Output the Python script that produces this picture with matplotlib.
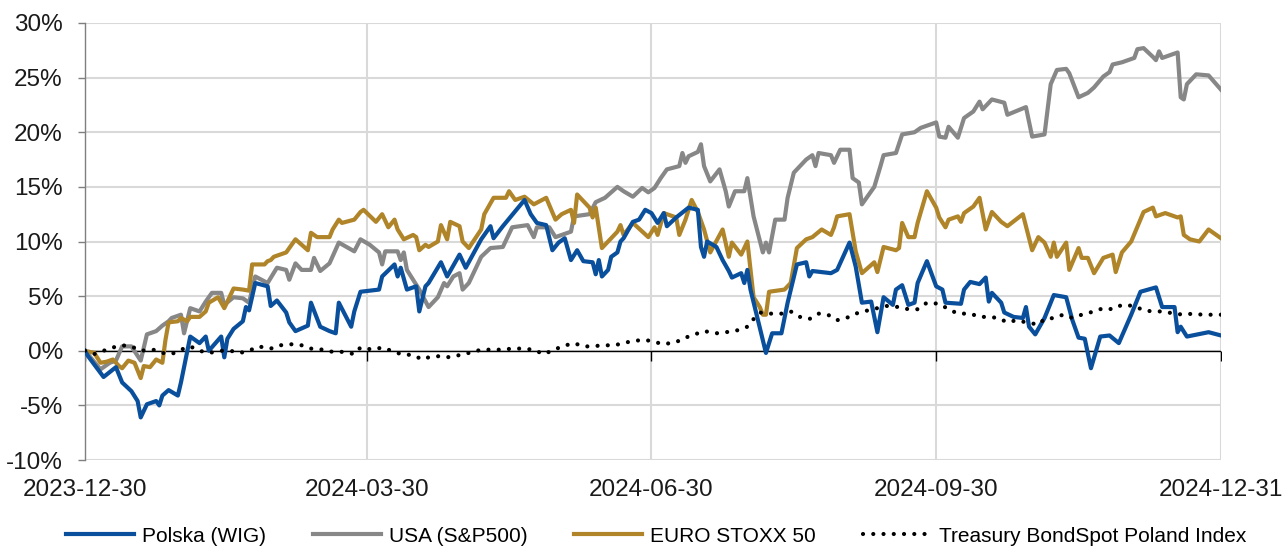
import numpy as np
import matplotlib
matplotlib.use("Agg")
import matplotlib.pyplot as plt
from matplotlib.ticker import FuncFormatter, MultipleLocator

plt.rcParams['font.family'] = ['Liberation Sans', 'DejaVu Sans']

start = np.datetime64('2023-12-30')
quarter_labels = ['2023-12-30', '2024-03-30', '2024-06-30', '2024-09-30', '2024-12-31']

# ---- data: days since 2023-12-30, cumulative return in % ----
wig_days = [0, 1, 6, 10, 12, 15, 17, 18, 20, 23, 24, 25, 27, 30, 31, 34, 37, 39, 40, 44, 45, 46, 48, 51, 52, 53,
            55, 59, 60, 62, 65, 66, 68, 72, 73, 76, 79, 81, 82, 84, 86, 87, 89, 95, 96, 100, 101, 102, 104, 107,
            108, 110, 111, 115, 117, 121, 123, 128, 131, 132, 135, 142, 144, 146, 149, 151, 153, 155, 157, 159,
            161, 164, 165, 166, 167, 169, 170, 172, 173, 174, 177, 179, 181, 183, 185, 187, 188, 191, 195, 198,
            199, 200, 201, 204, 206, 208, 209, 212, 213, 214, 215, 220, 222, 225, 227, 230, 233, 234, 235, 241,
            243, 247, 249, 251, 254, 256, 258, 261, 262, 264, 266, 268, 269, 272, 275, 277, 278, 283, 284, 286,
            289, 291, 292, 293, 296, 297, 300, 303, 304, 305, 307, 310, 313, 317, 319, 321, 323, 325, 328, 331,
            334, 338, 341, 346, 348, 352, 353, 354, 356, 363, 367]
wig_vals = [0.0, -0.5, -2.4, -1.5, -2.9, -3.7, -4.6, -6.1, -4.9, -4.6, -5.0, -4.1, -3.6, -4.1, -2.9, 1.3, 0.7, 1.3,
            0.0, 1.3, -0.6, 1.1, 2.0, 2.7, 4.0, 3.7, 6.2, 5.9, 4.1, 4.6, 3.5, 2.6, 1.8, 2.3, 4.4, 2.2, 1.8, 1.6,
            4.4, 3.3, 2.2, 3.6, 5.4, 5.6, 6.8, 7.9, 6.8, 7.6, 5.6, 5.9, 3.6, 5.9, 6.2, 8.1, 6.8, 8.8, 7.6, 10.2,
            11.4, 10.3, 11.4, 13.8, 12.5, 11.7, 11.5, 9.2, 9.9, 10.3, 8.3, 9.2, 8.2, 8.1, 7.0, 8.3, 6.8, 7.4, 8.6,
            9.0, 10.0, 10.3, 11.8, 12.0, 12.9, 12.6, 11.7, 12.6, 11.4, 12.2, 13.1, 12.9, 9.5, 8.6, 10.0, 9.5, 8.3,
            7.3, 6.7, 7.1, 6.2, 7.4, 5.6, -0.2, 1.6, 1.6, 4.4, 7.9, 8.1, 6.8, 7.3, 7.1, 7.4, 9.9, 7.7, 4.4, 4.5,
            1.7, 4.9, 4.2, 5.6, 6.0, 4.2, 4.4, 6.2, 8.2, 5.9, 5.6, 4.4, 4.3, 5.6, 6.3, 6.1, 6.7, 4.5, 5.3, 4.4,
            3.5, 3.1, 3.0, 4.0, 2.2, 1.5, 3.0, 5.1, 4.9, 2.8, 1.2, 1.1, -1.6, 1.3, 1.4, 0.7, 3.3, 5.4, 5.8, 4.0,
            4.0, 1.7, 2.2, 1.3, 1.7, 1.4]

sp_days = [0, 5, 8, 10, 12, 15, 18, 20, 23, 25, 27, 28, 31, 32, 34, 37, 39, 41, 44, 45, 48, 51, 53, 55, 59, 62,
           65, 66, 68, 70, 73, 74, 76, 79, 82, 87, 89, 92, 95, 96, 97, 101, 102, 103, 104, 108, 111, 114, 116,
           117, 119, 121, 122, 124, 128, 131, 135, 138, 143, 145, 146, 150, 152, 157, 158, 163, 165, 168, 172,
           174, 177, 180, 182, 184, 186, 188, 192, 193, 194, 195, 198, 199, 200, 202, 205, 207, 208, 210, 213,
           214, 216, 219, 220, 221, 223, 226, 227, 229, 233, 235, 236, 237, 241, 242, 244, 247, 248, 250, 251,
           255, 257, 258, 262, 264, 268, 270, 275, 276, 278, 279, 282, 284, 287, 289, 290, 293, 297, 298, 304,
           306, 310, 312, 314, 317, 318, 321, 324, 326, 329, 331, 332, 335, 339, 340, 342, 345, 346, 347, 348,
           353, 354, 355, 356, 359, 363, 367]
sp_vals = [0.0, -1.7, -1.1, -0.9, 0.4, 0.4, -0.9, 1.5, 1.8, 2.3, 2.7, 3.0, 3.3, 1.6, 3.9, 3.6, 4.5, 5.3, 5.3,
           4.2, 4.9, 4.8, 4.4, 6.8, 6.2, 7.6, 7.4, 6.5, 8.0, 7.4, 7.4, 8.5, 7.3, 8.0, 9.9, 9.1, 10.2, 9.7, 9.0,
           7.9, 9.1, 9.1, 8.3, 9.0, 7.4, 5.6, 4.0, 4.9, 6.2, 5.9, 6.8, 7.1, 5.6, 6.2, 8.6, 9.4, 9.5, 11.3, 11.5,
           10.4, 11.3, 11.3, 10.4, 10.9, 12.3, 12.5, 13.6, 14.0, 15.0, 14.6, 14.1, 14.9, 14.5, 14.9, 15.8, 16.6,
           16.9, 18.1, 17.2, 17.8, 18.2, 18.9, 16.9, 15.5, 16.6, 14.6, 13.2, 14.6, 14.6, 15.8, 12.3, 9.0, 9.9,
           9.0, 12.0, 12.0, 14.0, 16.3, 17.5, 17.9, 16.9, 18.1, 17.9, 17.2, 18.4, 18.4, 15.8, 15.4, 13.4, 15.0,
           16.9, 17.9, 18.1, 19.8, 20.0, 20.4, 20.9, 19.6, 19.5, 20.5, 19.5, 21.3, 21.9, 22.8, 22.1, 23.0, 22.7,
           21.6, 22.3, 19.6, 19.8, 24.4, 25.7, 25.8, 25.4, 23.2, 23.6, 24.1, 25.1, 25.5, 26.2, 26.4, 26.8, 27.6,
           27.7, 26.9, 26.6, 27.4, 26.8, 27.3, 23.2, 23.0, 24.4, 25.3, 25.2, 23.9]

sx_days = [0, 3, 5, 7, 9, 11, 12, 14, 16, 18, 19, 21, 23, 25, 26, 27, 30, 31, 33, 34, 37, 39, 40, 43, 45, 48,
           51, 53, 54, 58, 59, 60, 61, 65, 66, 68, 72, 73, 75, 79, 80, 82, 83, 87, 89, 90, 94, 96, 98, 100, 101,
           103, 106, 107, 108, 110, 111, 114, 115, 117, 118, 121, 122, 124, 128, 129, 132, 136, 137, 139, 142,
           145, 149, 152, 154, 157, 158, 159, 163, 164, 165, 167, 170, 172, 173, 174, 177, 182, 184, 185, 187,
           191, 192, 194, 196, 198, 200, 202, 206, 208, 209, 212, 214, 216, 218, 219, 220, 221, 226, 228, 230,
           233, 235, 238, 241, 242, 243, 247, 249, 251, 255, 256, 258, 262, 263, 264, 266, 268, 269, 272, 275,
           276, 278, 279, 282, 283, 284, 287, 289, 291, 293, 296, 298, 303, 306, 308, 310, 312, 313, 314, 317,
           318, 321, 322, 324, 326, 329, 332, 333, 335, 338, 342, 345, 346, 349, 353, 354, 355, 357, 360, 363, 367]
sx_vals = [0.0, -0.2, -1.1, -1.0, -0.8, -1.4, -1.6, -0.9, -1.1, -2.5, -1.4, -1.5, -0.8, -1.1, 1.0, 2.6, 2.7,
           3.0, 2.7, 3.1, 3.1, 3.6, 4.4, 4.9, 3.9, 5.7, 5.6, 5.5, 7.9, 7.9, 8.2, 8.3, 8.6, 9.0, 9.4, 10.2, 9.2,
           10.8, 10.4, 10.4, 11.1, 12.0, 11.7, 12.0, 12.7, 12.9, 11.8, 12.5, 11.3, 12.0, 11.1, 10.2, 10.6, 10.4,
           9.2, 9.7, 9.5, 10.0, 11.5, 10.2, 11.8, 11.4, 10.0, 9.4, 11.1, 12.5, 14.0, 14.0, 14.6, 13.8, 14.1,
           13.4, 14.0, 12.0, 12.5, 12.9, 11.7, 14.3, 13.1, 12.2, 13.1, 9.4, 10.3, 10.9, 11.5, 10.6, 11.7, 10.4,
           11.3, 10.6, 12.6, 12.2, 10.6, 12.0, 13.8, 12.7, 11.1, 9.0, 11.1, 8.6, 9.9, 8.8, 10.0, 4.9, 4.0, 3.3,
           3.3, 5.4, 5.6, 6.2, 9.4, 10.2, 10.4, 11.1, 10.6, 11.3, 12.3, 12.5, 9.1, 7.1, 8.1, 7.2, 9.5, 9.2, 9.4,
           11.7, 10.4, 10.4, 11.7, 14.6, 13.1, 12.2, 11.3, 12.0, 12.3, 11.8, 12.6, 13.2, 14.0, 11.1, 12.7, 11.8,
           11.4, 12.5, 9.2, 10.4, 9.9, 8.6, 9.9, 8.6, 9.9, 7.4, 9.4, 8.5, 8.5, 7.1, 8.5, 8.8, 7.2, 9.0, 10.0,
           12.7, 13.1, 12.3, 12.6, 12.2, 12.3, 10.6, 10.2, 10.0, 11.1, 10.3]

bond_days = [0, 3, 6, 9, 12, 15, 18, 22, 25, 28, 31, 34, 37, 40, 44, 47, 50, 53, 56, 60, 63, 67, 70, 73, 77, 80,
             83, 87, 89, 93, 96, 99, 102, 106, 109, 111, 114, 117, 121, 124, 128, 131, 135, 138, 141, 145, 148,
             151, 154, 158, 161, 164, 167, 171, 174, 177, 181, 184, 187, 191, 194, 197, 200, 204, 207, 210, 214,
             216, 218, 221, 225, 228, 231, 234, 237, 240, 243, 246, 249, 253, 256, 259, 263, 266, 269, 272, 276,
             279, 282, 286, 289, 292, 295, 298, 301, 304, 308, 310, 313, 316, 319, 322, 326, 329, 332, 335, 339,
             342, 345, 348, 352, 355, 358, 361, 364, 367]
bond_vals = [0.0, -0.3, 0.0, 0.3, 0.5, 0.4, 0.0, 0.1, -0.2, -0.3, 0.1, 0.4, 0.0, -0.2, 0.0, 0.0, -0.2, 0.0, 0.4,
             0.2, 0.5, 0.6, 0.5, 0.2, 0.1, -0.1, -0.1, -0.3, 0.3, 0.1, 0.3, 0.0, -0.3, -0.4, -0.8, -0.6, -0.5,
             -0.6, -0.4, -0.2, 0.1, 0.1, 0.1, 0.2, 0.2, 0.1, -0.3, 0.0, 0.4, 0.7, 0.4, 0.4, 0.5, 0.5, 0.7, 0.9,
             1.0, 0.8, 0.6, 0.8, 1.2, 1.5, 1.8, 1.6, 1.7, 1.8, 2.2, 2.9, 3.5, 3.4, 3.4, 3.6, 3.1, 2.9, 3.4, 3.3,
             2.8, 3.0, 3.4, 3.7, 3.9, 4.1, 4.0, 3.8, 3.8, 4.4, 4.3, 3.8, 3.4, 3.4, 3.1, 3.1, 3.0, 2.6, 2.8, 2.6,
             2.4, 2.9, 3.0, 3.3, 3.0, 3.3, 3.6, 3.9, 3.8, 4.2, 4.1, 3.7, 3.6, 3.6, 3.4, 3.3, 3.4, 3.3, 3.3, 3.3]

series_names = ['Polska (WIG)', 'USA (S&P500)', 'EURO STOXX 50', 'Treasury BondSpot Poland Index']
colors = ['#0a4f9c', '#878787', '#b0852a', '#000000']

fig = plt.figure(figsize=(12.84, 5.47), dpi=100)
ax = fig.add_axes([0.0662, 0.159, 0.8847, 0.799])

def to_dates(d):
    return start + np.array(d).astype('timedelta64[D]')

qdates = start + np.array([0, 91, 183, 275, 367]).astype('timedelta64[D]')

# grid
for v in range(-10, 31, 5):
    ax.axhline(v, color='#d9d9d9', lw=1.5, zorder=0)
for q in qdates[1:]:
    ax.axvline(q, color='#d9d9d9', lw=1.5, zorder=0)
ax.axhline(0, color='black', lw=1.0, zorder=1)
ax.plot(qdates, np.zeros(len(qdates)), linestyle='none', marker=3, ms=7, mew=1.0, color='black', zorder=1)

lw = 3.0
ax.plot(to_dates(sp_days), sp_vals, color=colors[1], lw=lw, label=series_names[1], zorder=2, solid_joinstyle='round')
ax.plot(to_dates(sx_days), sx_vals, color=colors[2], lw=lw, label=series_names[2], zorder=2, solid_joinstyle='round')
ax.plot(to_dates(wig_days), wig_vals, color=colors[0], lw=lw, label=series_names[0], zorder=3, solid_joinstyle='round')
ax.plot(to_dates(bond_days), bond_vals, color=colors[3], lw=3.0, linestyle=(0, (0.01, 2.45)),
        dash_capstyle='round', label=series_names[3], zorder=4)

ax.set_xlim(qdates[0], qdates[-1])
ax.set_ylim(-10, 30)
ax.yaxis.set_major_locator(MultipleLocator(5))
ax.yaxis.set_major_formatter(FuncFormatter(lambda v, p: f"{int(round(v))}%"))
ax.set_xticks(qdates)
ax.set_xticklabels(quarter_labels)

for s in ['top', 'right', 'bottom']:
    ax.spines[s].set_visible(False)
ax.spines['left'].set_color('#7f7f7f')
ax.spines['left'].set_linewidth(1.0)
fs = 17.5
ax.tick_params(axis='y', direction='out', length=5, width=1.0, color='#7f7f7f',
               labelsize=fs, labelcolor='#1a1a1a', pad=11)
ax.tick_params(axis='x', length=0, labelsize=fs, labelcolor='#1a1a1a', pad=14)

handles, labels = ax.get_legend_handles_labels()
order = [labels.index(n) for n in series_names]
fig.legend([handles[i] for i in order], [labels[i] for i in order],
           loc='center', bbox_to_anchor=(0.511, 0.020), ncol=4, frameon=False, fontsize=15,
           handlelength=3.27, handletextpad=0.38, columnspacing=2.25, borderpad=0.0, borderaxespad=0.0)

fig.savefig('out.png', dpi=100)
